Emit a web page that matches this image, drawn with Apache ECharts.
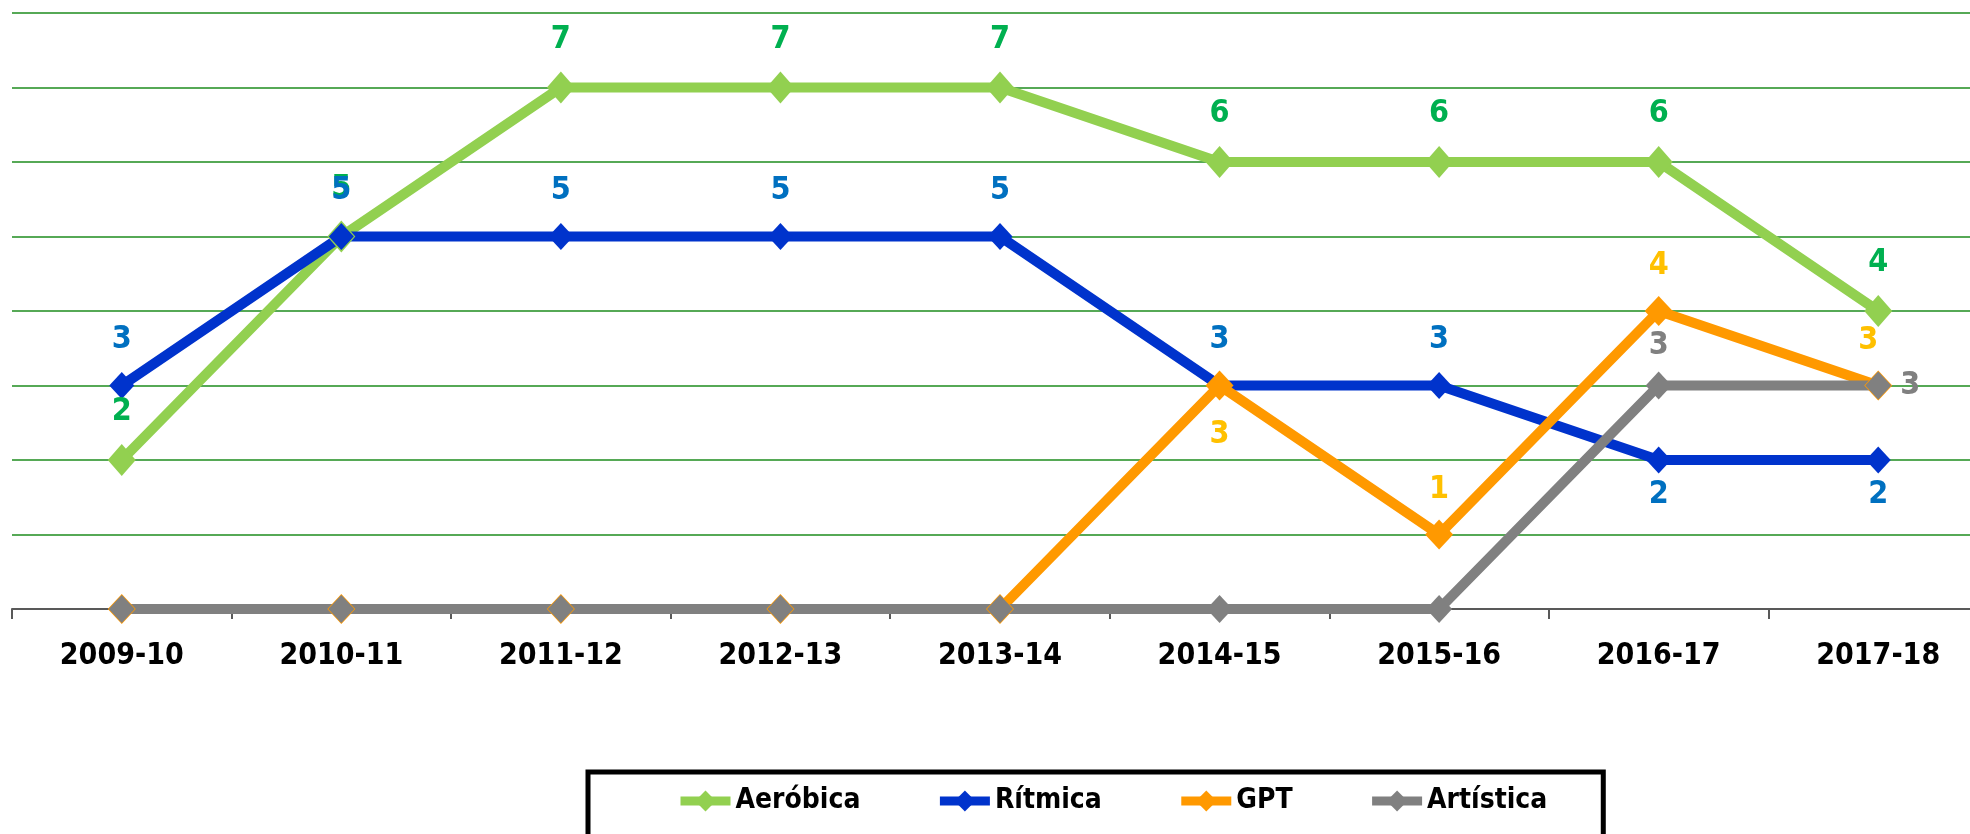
<!DOCTYPE html>
<html>
<head>
<meta charset="utf-8">
<title>Modalidades por temporada</title>
<script src="https://cdn.jsdelivr.net/npm/echarts@6/dist/echarts.min.js"></script>
<style>
  html, body { margin: 0; padding: 0; background: #fff; }
  #chart { width: 1970px; height: 834px; }
</style>
</head>
<body>
<div id="chart"></div>
<script>
// temporadas
var seasons = ['2009-10', '2010-11', '2011-12', '2012-13', '2013-14', '2014-15', '2015-16', '2016-17', '2017-18'];

// valores por modalidad
var aerobica  = [2, 5, 7, 7, 7, 6, 6, 6, 4];
var ritmica   = [3, 5, 5, 5, 5, 3, 3, 2, 2];
var gpt       = [0, 0, 0, 0, 0, 3, 1, 4, 3];
var artistica = [0, 0, 0, 0, 0, 0, 0, 3, 3];

var FONT = '"DejaVu Sans Condensed", "Liberation Sans Narrow", "Noto Sans", sans-serif';

// etiqueta de un punto; los ceros no se rotulan
function pointLabel(color, pos, dist, offset) {
    var lbl = {
        show: true,
        position: pos,
        distance: dist,
        color: color,
        fontFamily: FONT,
        fontWeight: 'bold',
        fontSize: 32,
        lineHeight: 32,
        formatter: function (p) { return p.value === 0 ? '' : String(p.value); }
    };
    if (offset) lbl.offset = offset;
    return lbl;
}

function buildData(values, labelFor) {
    return values.map(function (v, i) {
        var item = { value: v };
        var l = labelFor(i, v);
        if (l) item.label = l;
        return item;
    });
}

function makeSeries(name, values, lineColor, labelColor, width, symSize, labelFor) {
    return {
        name: name,
        type: 'line',
        data: buildData(values, labelFor),
        symbol: 'diamond',
        symbolSize: symSize,
        lineStyle: { color: lineColor, width: width },
        itemStyle: { color: lineColor },
        label: pointLabel(labelColor, 'top', 16),
        emphasis: { disabled: true },
        animation: false
    };
}

var series = [
    makeSeries('Aeróbica', aerobica, '#92D050', '#00B050', 10, [28, 32], function () { return null; }),
    makeSeries('Rítmica', ritmica, '#0033CC', '#0070C0', 10, [25, 27], function (i) {
        if (i >= 7) return pointLabel('#0070C0', 'bottom', 5);
        return null;
    }),
    makeSeries('GPT', gpt, '#FF9900', '#FFC000', 10, [28, 30], function (i) {
        if (i === 5) return pointLabel('#FFC000', 'bottom', 18);
        if (i === 8) return pointLabel('#FFC000', 'top', 14, [-10, 0]);
        return pointLabel('#FFC000', 'top', 14);
    }),
    makeSeries('Artística', artistica, '#808080', '#808080', 10, [26, 28], function (i) {
        if (i === 8) return pointLabel('#808080', 'right', 9);
        return pointLabel('#808080', 'top', 10);
    })
];

var chart = echarts.init(document.getElementById('chart'));
chart.setOption({
    animation: false,
    backgroundColor: '#ffffff',
    grid: { left: 12, right: -18, top: 13, bottom: 225, containLabel: false, outerBoundsMode: 'none' },
    xAxis: {
        type: 'category',
        data: seasons,
        boundaryGap: true,
        axisLine: { lineStyle: { color: '#595959', width: 2 } },
        axisTick: { show: true, interval: 0, length: 10, lineStyle: { color: '#595959', width: 2 } },
        axisLabel: {
            color: '#000',
            fontFamily: FONT,
            fontWeight: 'bold',
            fontSize: 30,
            margin: 32,
            interval: 0
        },
        splitLine: { show: false }
    },
    yAxis: {
        type: 'value',
        min: 0,
        max: 8,
        interval: 1,
        axisLine: { show: false },
        axisTick: { show: false },
        axisLabel: { show: false },
        splitLine: { lineStyle: { color: '#1E8C1E', width: 1.5 } }
    },
    legend: {
        left: 588,
        top: 772,
        orient: 'horizontal',
        itemWidth: 50,
        itemHeight: 26,
        itemGap: 75,
        padding: [15, 56, 40, 88],
        borderColor: '#000',
        borderWidth: 5,
        lineStyle: { width: 9 },
        textStyle: {
            color: '#000',
            fontFamily: FONT,
            fontWeight: 'bold',
            fontSize: 28
        },
        data: ['Aeróbica', 'Rítmica', 'GPT', 'Artística']
    },
    series: series
});
</script>
</body>
</html>
